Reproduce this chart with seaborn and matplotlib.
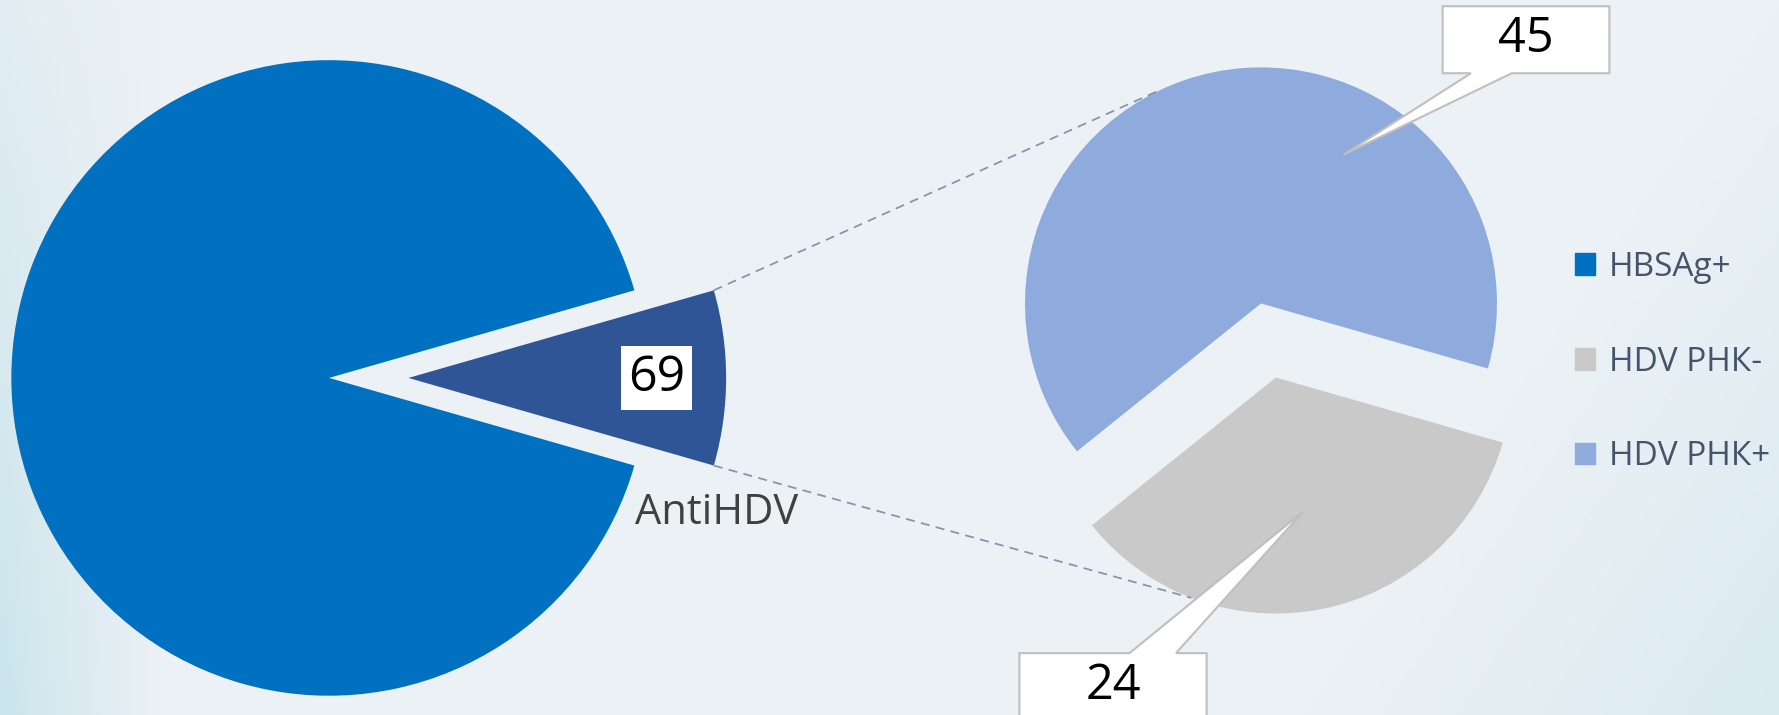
import numpy as np
import matplotlib
matplotlib.use("Agg")
import matplotlib.pyplot as plt
import seaborn as sns
from matplotlib.patches import Patch, Polygon

# values
main_labels = ["AntiHDV", "HBSAg+"]
main_values = [69, 707]
sub_labels = ["HDV РНК-", "HDV РНК+"]
sub_values = [24, 45]
legend_labels = ["HBSAg+", "HDV РНК-", "HDV РНК+"]

palette = {"HBSAg+": "#0070c0", "AntiHDV": "#2f5597",
           "HDV РНК-": "#c9c9c9", "HDV РНК+": "#8faadc"}

sns.set_theme(style="white")
plt.rcParams["font.family"] = ["Open Sans", "DejaVu Sans"]

W, H = 1568, 630
bg = "#ecf1f5"
fig = plt.figure(figsize=(17.79, 7.15), dpi=100)
fig.patch.set_facecolor(bg)
ax = fig.add_axes([0, 0, 1, 1])

# soft background tint (left edge and lower right)
xx, yy = np.meshgrid(np.linspace(0, W, 400), np.linspace(H, 0, 160))
base = np.array([0xec, 0xf1, 0xf5]) / 255
tint = np.array([0xc4, 0xe3, 0xeb]) / 255
a_left = np.clip(1 - xx / 140, 0, 1) * (0.25 + 0.6 * (1 - yy / H))
a_right = np.clip((xx - 1150) / 420 + (1 - yy / H) - 1.0, 0, 1) * 0.45
alpha = np.clip(a_left + a_right, 0, 1)[..., None]
img = base * (1 - alpha) + tint * alpha
ax.imshow(img, extent=(0, W, 0, H), zorder=0, aspect="auto")

# main pie: small slice centred on the right (explode is in data units)
main_r = 280
main_start = -main_values[0] / sum(main_values) * 180
w_main, _ = ax.pie(main_values, colors=[palette[l] for l in main_labels],
                   startangle=main_start, explode=[0.25 * main_r, 0], center=(290, 297),
                   radius=main_r, frame=True, wedgeprops=dict(linewidth=0))

# second pie
sub_r = 208
split_angle = -16
sub_start = split_angle - sub_values[0] / sum(sub_values) * 360
w_sub, _ = ax.pie(sub_values, colors=[palette[l] for l in sub_labels],
                  startangle=sub_start, explode=[0.16 * sub_r, 0.16 * sub_r],
                  center=(1118, 330), radius=sub_r, frame=True,
                  wedgeprops=dict(linewidth=0))


def point_on(wedge, angle, frac=1.0):
    cx, cy = wedge.center
    a = np.deg2rad(angle)
    return cx + frac * wedge.r * np.cos(a), cy + frac * wedge.r * np.sin(a)


# connector lines
anti = w_main[0]
neg, pos = w_sub
for a_from, wedge, a_to in [(anti.theta2, pos, 115), (anti.theta1, neg, -111)]:
    x0, y0 = point_on(anti, a_from)
    x1, y1 = point_on(wedge, a_to)
    ax.plot([x0, x1], [y0, y1], color="#8497b0", lw=1.3, dashes=(5, 3.5), zorder=3)

# label of the small slice
mid = (anti.theta1 + anti.theta2) / 2
lx, ly = point_on(anti, mid, 0.78)
ax.text(lx, ly, str(main_values[0]), fontsize=36, color="black", ha="center", va="center",
        bbox=dict(boxstyle="square,pad=0.14", fc="white", ec="none"), zorder=5)
tx, ty = point_on(anti, -23.6, 1.06)
ax.text(tx, ty, main_labels[0], fontsize=30, color="#404040", ha="center", va="center", zorder=5)


def callout(text, tip, cx, cy, bw, bh, base0, base1, from_top):
    l, r, b, t = cx - bw / 2, cx + bw / 2, cy - bh / 2, cy + bh / 2
    if from_top:
        verts = [(l, t), (l + base0, t), tip, (l + base1, t), (r, t), (r, b), (l, b)]
    else:
        verts = [(l, t), (r, t), (r, b), (l + base1, b), tip, (l + base0, b), (l, b)]
    ax.add_patch(Polygon(verts, closed=True, fc="white", ec="#bfbfbf", lw=1.5, zorder=6))
    ax.text(cx, cy, text, fontsize=35, color="black", ha="center", va="center", zorder=7)


callout(str(sub_values[1]), point_on(pos, 61, 0.72), 1345, 595, 147, 59, 25, 61, False)
neg_mid = (neg.theta1 + neg.theta2) / 2
callout(str(sub_values[0]), point_on(neg, neg_mid, 0.58), 981, 25, 165, 59, 97, 138, True)

# legend
handles = [Patch(color=palette[l]) for l in legend_labels]
leg = ax.legend(handles, legend_labels, loc="center left", bbox_to_anchor=(1388, 311),
                bbox_transform=ax.transData, frameon=False, fontsize=24,
                labelspacing=1.85, handlelength=0.62, handleheight=0.62,
                handletextpad=0.4, borderpad=0, borderaxespad=0)
for t in leg.get_texts():
    t.set_color("#44546a")

ax.set_xlim(0, W)
ax.set_ylim(0, H)
ax.set_aspect("equal", adjustable="datalim")
ax.axis("off")

fig.savefig("out.png", dpi=100, facecolor=bg)
